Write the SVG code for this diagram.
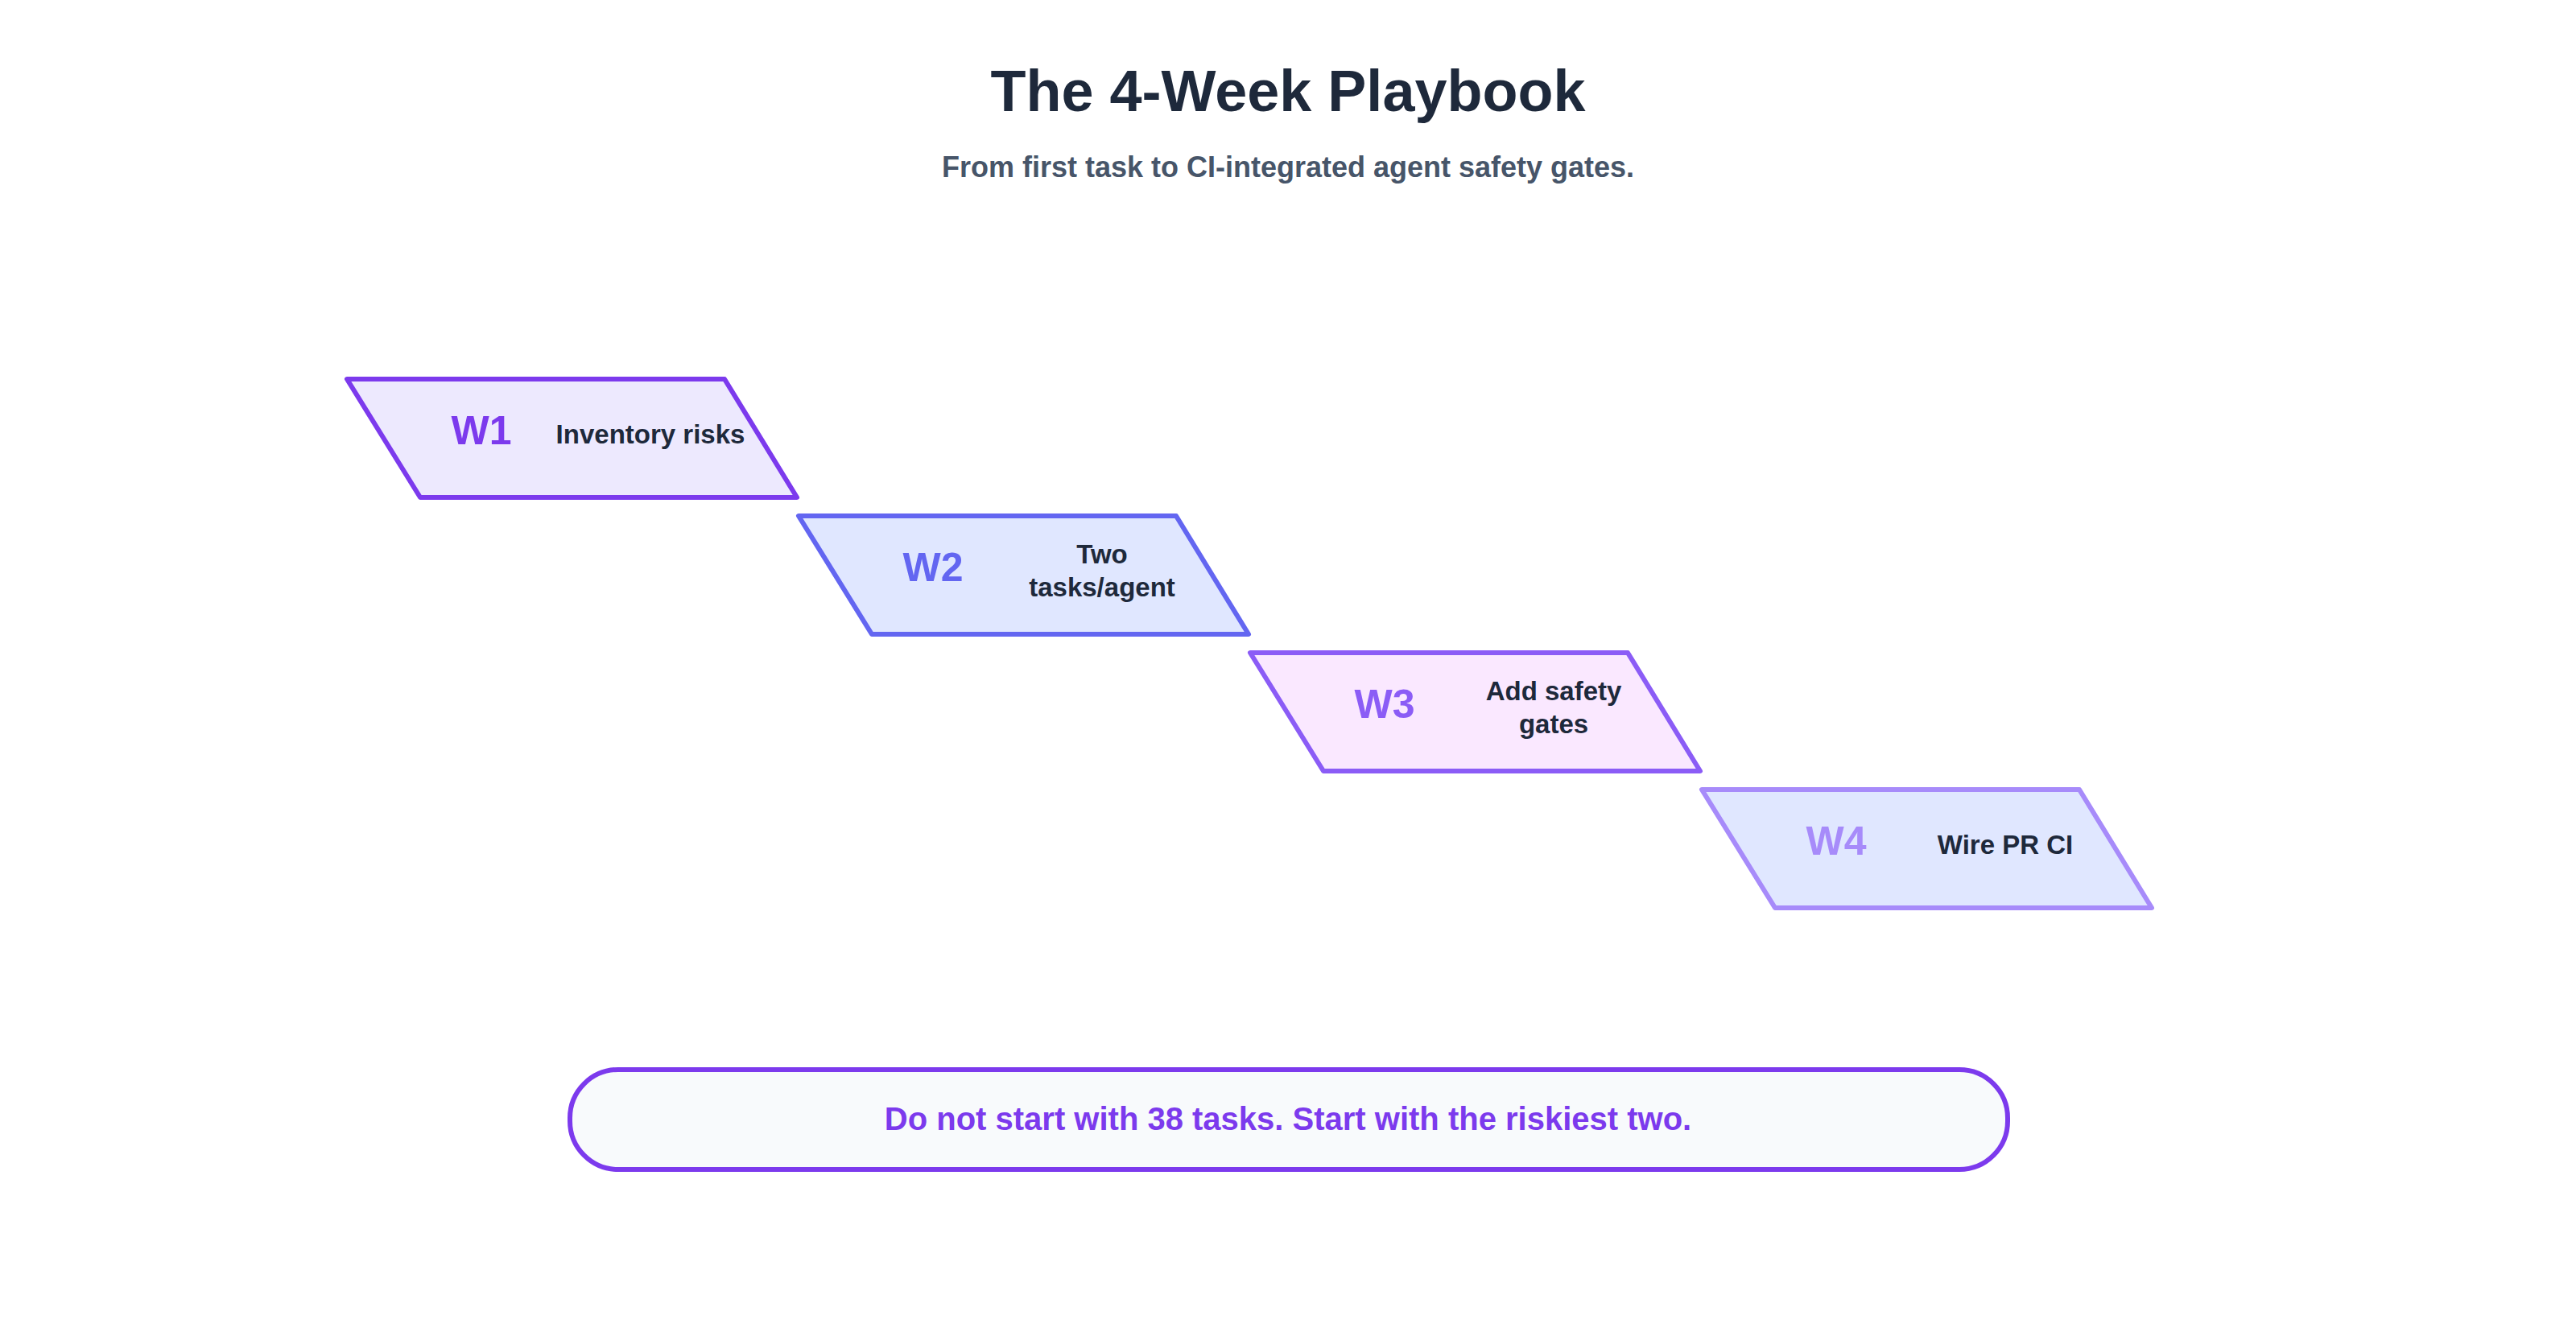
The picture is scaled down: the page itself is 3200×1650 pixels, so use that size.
<svg xmlns="http://www.w3.org/2000/svg" width="3200" height="1650" viewBox="0 0 3200 1650">
<style>
text{font-family:"Liberation Sans",Arial,sans-serif;font-weight:bold}
.wk{font-size:50px;text-anchor:middle}
.d{font-size:33px;fill:#1e293b;text-anchor:middle}
.p{stroke-width:6;stroke-linejoin:round}
</style>
<rect width="3200" height="1650" fill="#ffffff"/>
<text x="1600" y="138" font-size="72" fill="#1e293b" text-anchor="middle">The 4-Week Playbook</text>
<text x="1600" y="220" font-size="36" fill="#475569" text-anchor="middle">From first task to CI-integrated agent safety gates.</text>
<g id="connectors"></g>
<g id="w1"><polygon class="p" points="431,471 900,471 990,618 522,618" fill="#ede9fe" stroke="#7c3aed"/>
<text class="wk" x="598" y="552" fill="#7c3aed">W1</text><text class="d" x="808" y="551">Inventory risks</text></g>
<g id="w2"><polygon class="p" points="992,641 1461,641 1551,788 1083,788" fill="#e0e7ff" stroke="#6366f1"/>
<text class="wk" x="1159" y="722" fill="#6366f1">W2</text><text class="d" x="1369" y="700">Two</text><text class="d" x="1369" y="741">tasks/agent</text></g>
<g id="w3"><polygon class="p" points="1553,811 2022,811 2112,958 1644,958" fill="#fae8ff" stroke="#8b5cf6"/>
<text class="wk" x="1720" y="892" fill="#8b5cf6">W3</text><text class="d" x="1930" y="870">Add safety</text><text class="d" x="1930" y="911">gates</text></g>
<g id="w4"><polygon class="p" points="2114,981 2583,981 2673,1128 2205,1128" fill="#e0e7ff" stroke="#a78bfa"/>
<text class="wk" x="2281" y="1062" fill="#a78bfa">W4</text><text class="d" x="2491" y="1061">Wire PR CI</text></g>
<g id="note"><rect x="708" y="1329" width="1786" height="124" rx="60" fill="#f8fafc" stroke="#7c3aed" stroke-width="6"/>
<text x="1600" y="1404" font-size="40" fill="#7c3aed" text-anchor="middle">Do not start with 38 tasks. Start with the riskiest two.</text></g>
</svg>
